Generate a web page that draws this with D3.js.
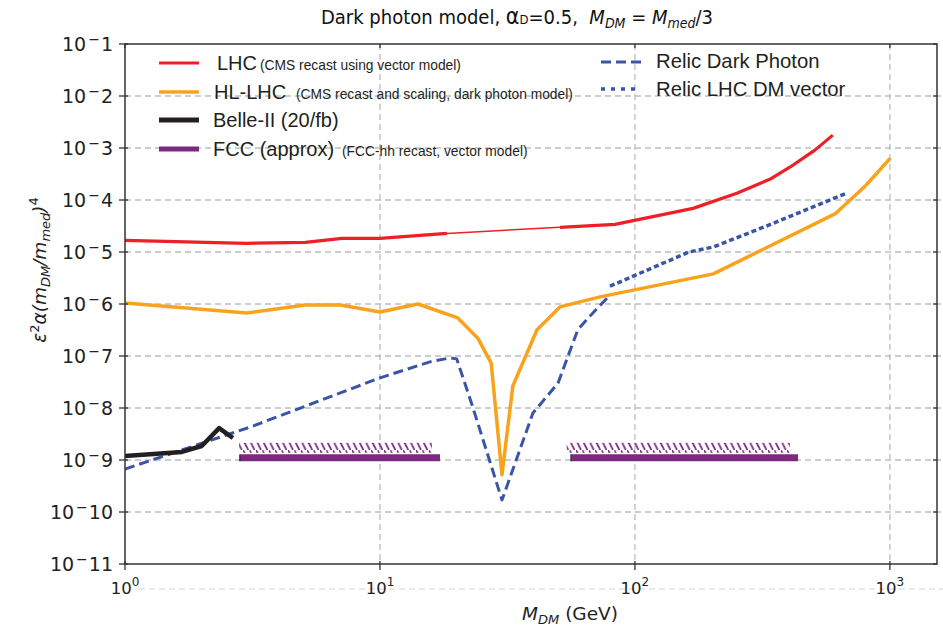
<!DOCTYPE html>
<html>
<head>
<meta charset="utf-8">
<script src="https://cdn.jsdelivr.net/npm/d3@7"></script>
<style>
  body { margin: 0; background: #fff; }
  svg { display: block; }
</style>
</head>
<body>
<div id="chart"></div>
<script>
// ---------------- data ----------------
const xTicks = [1, 10, 100, 1000];
const xTickExp = ["0", "1", "2", "3"];
const yTicks = [1e-1, 1e-2, 1e-3, 1e-4, 1e-5, 1e-6, 1e-7, 1e-8, 1e-9, 1e-10, 1e-11];
const yTickExp = ["1", "2", "3", "4", "5", "6", "7", "8", "9", "10", "11"];

const lhcLowMass = [1.0, 3.0, 5.1, 7.1, 10, 18.3];
const lhcLowVal  = [1.67e-5, 1.47e-5, 1.53e-5, 1.83e-5, 1.83e-5, 2.28e-5];
const lhcGapMass = [18.3, 50.8];
const lhcGapVal  = [2.28e-5, 2.98e-5];
const lhcHighMass = [50.8, 83.5, 169, 251, 338, 405, 508, 597];
const lhcHighVal  = [2.98e-5, 3.4e-5, 6.9e-5, 1.35e-4, 2.5e-4, 4.27e-4, 9.1e-4, 1.77e-3];

const hlMass = [1.0, 3.0, 5.1, 7.0, 10, 14.1, 20.2, 24.2, 27.3, 30.1, 33.2, 41.3, 50.8, 73, 203, 609, 801, 1004];
const hlVal  = [1.04e-6, 6.7e-7, 9.6e-7, 9.6e-7, 7.0e-7, 1.0e-6, 5.4e-7, 2.2e-7, 7.3e-8, 5.2e-10, 2.65e-8, 3.2e-7, 8.8e-7, 1.37e-6, 3.8e-6, 5.4e-5, 1.86e-4, 6.4e-4];

const belleMass = [1.0, 1.67, 2.0, 2.34, 2.65];
const belleVal  = [1.19e-9, 1.43e-9, 1.86e-9, 4.1e-9, 2.65e-9];

const relicDPMass = [1.0, 3.1, 10, 15.7, 18.8, 20.0, 23.1, 30.1, 39.8, 49.9, 59.7, 66.7, 79.8];
const relicDPVal  = [6.7e-10, 4.3e-9, 3.8e-8, 7.7e-8, 9.2e-8, 8.8e-8, 1.05e-8, 1.7e-10, 8.0e-9, 3.0e-8, 3.2e-7, 5.9e-7, 1.49e-6];

const relicVecMass = [79.8, 163, 203, 328, 678];
const relicVecVal  = [2.2e-6, 1.0e-5, 1.25e-5, 3.16e-5, 1.36e-4];

const fccStart = [2.82, 56.1];
const fccEnd   = [17.2, 436];
const fccHatchStart = [2.8, 54];
const fccHatchEnd   = [16, 405];
const fccVal = 1.1e-9;

// ---------------- layout ----------------
const W = 943, H = 627;
const m = { left: 125, right: 6, top: 44, bottom: 63 };
const x = d3.scaleLog().domain([1, 1530]).range([m.left, W - m.right]);
const y = d3.scaleLog().domain([1e-11, 1e-1]).range([H - m.bottom, m.top]);

const svg = d3.select("#chart").append("svg").attr("width", W).attr("height", H)
  .style("font-family", "'DejaVu Sans', sans-serif");

const defs = svg.append("defs");
defs.append("clipPath").attr("id", "clip").append("rect")
  .attr("x", m.left).attr("y", m.top).attr("width", W - m.left - m.right).attr("height", H - m.top - m.bottom);
const pat = defs.append("pattern").attr("id", "hatch").attr("patternUnits", "userSpaceOnUse")
  .attr("width", 6.4).attr("height", 10);
pat.append("path").attr("d", "M0,0 L5,10").attr("stroke", "#7b2a80").attr("stroke-width", 1.7);

const gridColor = "#bdbdbd";
// horizontal grid (extends to right edge of the picture)
svg.append("g").selectAll("line").data(yTicks.slice(1, -1)).join("line")
  .attr("x1", m.left).attr("x2", W).attr("y1", d => y(d)).attr("y2", d => y(d))
  .attr("stroke", gridColor).attr("stroke-width", 1.3).attr("stroke-dasharray", "6,4");
// vertical grid
svg.append("g").selectAll("line").data(xTicks.slice(1)).join("line")
  .attr("x1", d => x(d)).attr("x2", d => x(d)).attr("y1", m.top).attr("y2", H - m.bottom)
  .attr("stroke", gridColor).attr("stroke-width", 1.3).attr("stroke-dasharray", "6,4");
// stray grid line below axis
svg.append("line").attr("x1", m.left + 14).attr("x2", W).attr("y1", 589).attr("y2", 589)
  .attr("stroke", "#d4d4d4").attr("stroke-width", 1.1).attr("stroke-dasharray", "6,4");

// ---------------- curves ----------------
const line = d3.line().x(d => x(d[0])).y(d => y(d[1]));
const zip = (a, b) => a.map((v, i) => [v, b[i]]);
const plot = svg.append("g").attr("clip-path", "url(#clip)");

function draw(mass, val, color, width, dash) {
  plot.append("path").datum(zip(mass, val)).attr("d", line)
    .attr("fill", "none").attr("stroke", color).attr("stroke-width", width)
    .attr("stroke-linejoin", "round").attr("stroke-dasharray", dash || null);
}
const RED = "#ee1f26", ORANGE = "#f9a31c", BLACK = "#231f20", PURPLE = "#7b2a80", BLUE = "#3a55a6";

draw(relicDPMass, relicDPVal, BLUE, 3, "10,5");
draw(relicVecMass, relicVecVal, BLUE, 3.5, "5,3");
draw(lhcLowMass, lhcLowVal, RED, 3.2);
draw(lhcGapMass, lhcGapVal, RED, 1.5);
draw(lhcHighMass, lhcHighVal, RED, 3.2);
draw(hlMass, hlVal, ORANGE, 3.5);
draw(belleMass, belleVal, BLACK, 4.5);

// FCC bars with hatching
fccStart.forEach((s, i) => {
  const yb = y(fccVal);
  plot.append("rect").attr("x", x(fccHatchStart[i])).attr("y", yb - 15)
    .attr("width", x(fccHatchEnd[i]) - x(fccHatchStart[i])).attr("height", 10)
    .attr("fill", "url(#hatch)");
  plot.append("line").attr("x1", x(s)).attr("x2", x(fccEnd[i])).attr("y1", yb).attr("y2", yb)
    .attr("stroke", PURPLE).attr("stroke-width", 7);
  plot.append("line").attr("x1", x(s)).attr("x2", x(s)).attr("y1", yb - 3.5).attr("y2", yb + 3.5)
    .attr("stroke", BLACK).attr("stroke-width", 1);
});

// ---------------- frame & ticks ----------------
const frame = "#333";
svg.append("rect").attr("x", m.left).attr("y", m.top)
  .attr("width", W - m.left - m.right).attr("height", H - m.top - m.bottom)
  .attr("fill", "none").attr("stroke", frame).attr("stroke-width", 1.5);

const yAxisG = svg.append("g");
yTicks.forEach((t, i) => {
  yAxisG.append("line").attr("x1", m.left - 6).attr("x2", m.left + 3).attr("y1", y(t)).attr("y2", y(t))
    .attr("stroke", frame).attr("stroke-width", 1.3);
  yAxisG.append("line").attr("x1", W - m.right - 4).attr("x2", W - m.right).attr("y1", y(t)).attr("y2", y(t))
    .attr("stroke", frame).attr("stroke-width", 1.3);
  const tx = yAxisG.append("text").attr("x", m.left - 12).attr("y", y(t) + 7)
    .attr("text-anchor", "end").attr("font-size", 19).attr("fill", "#222");
  tx.append("tspan").text("10");
  tx.append("tspan").attr("dy", -7).attr("font-size", 14).attr("dx", 2).text("\u2212");
  tx.append("tspan").attr("dy", 7).attr("dx", 1).text(yTickExp[i]);
});

const xAxisG = svg.append("g");
xTicks.forEach((t, i) => {
  xAxisG.append("line").attr("x1", x(t)).attr("x2", x(t)).attr("y1", H - m.bottom - 3).attr("y2", H - m.bottom + 6)
    .attr("stroke", frame).attr("stroke-width", 1.3);
  xAxisG.append("line").attr("x1", x(t)).attr("x2", x(t)).attr("y1", m.top).attr("y2", m.top + 4)
    .attr("stroke", frame).attr("stroke-width", 1.3);
  const tx = xAxisG.append("text").attr("x", x(t)).attr("y", H - m.bottom + 30)
    .attr("text-anchor", "middle").attr("font-size", 16.5).attr("fill", "#222");
  tx.append("tspan").text("10");
  tx.append("tspan").attr("dy", -8).attr("font-size", 12).text(xTickExp[i]);
});

// ---------------- labels ----------------
const title = svg.append("text").attr("x", 517).attr("y", 24).attr("text-anchor", "middle")
  .attr("font-size", 20).attr("fill", "#111")
  .style("font-family", "'Liberation Sans Narrow', 'DejaVu Sans Condensed', 'Liberation Sans', sans-serif");
title.append("tspan").text("Dark photon model, ");
title.append("tspan").attr("font-size", 23).text("\u03B1");
title.append("tspan").attr("font-size", 13).text("D");
title.append("tspan").text("=0.5,\u00A0\u00A0");
title.append("tspan").attr("font-style", "italic").text("M");
title.append("tspan").attr("font-style", "italic").attr("font-size", 14).attr("dy", 4).text("DM");
title.append("tspan").attr("dy", -4).text(" = ");
title.append("tspan").attr("font-style", "italic").text("M");
title.append("tspan").attr("font-style", "italic").attr("font-size", 14).attr("dy", 4).text("med");
title.append("tspan").attr("dy", -4).text("/3");

const xl = svg.append("text").attr("x", 570).attr("y", 620).attr("text-anchor", "middle")
  .attr("font-size", 18.5).attr("fill", "#222");
xl.append("tspan").attr("font-style", "italic").text("M");
xl.append("tspan").attr("font-style", "italic").attr("font-size", 13).attr("dy", 4).text("DM");
xl.append("tspan").attr("dy", -4).text(" (GeV)");

const yl = svg.append("text").attr("transform", "translate(46,270) rotate(-90)")
  .attr("text-anchor", "middle").attr("font-size", 18.5).attr("fill", "#222");
yl.append("tspan").attr("font-style", "italic").text("\u03B5");
yl.append("tspan").attr("font-size", 13).attr("dy", -7).text("2");
yl.append("tspan").attr("font-style", "italic").attr("dy", 7).text("\u03B1(m");
yl.append("tspan").attr("font-style", "italic").attr("font-size", 13).attr("dy", 4).text("DM");
yl.append("tspan").attr("font-style", "italic").attr("dy", -4).text("/m");
yl.append("tspan").attr("font-style", "italic").attr("font-size", 13).attr("dy", 4).text("med");
yl.append("tspan").attr("font-style", "italic").attr("dy", -4).text(")");
yl.append("tspan").attr("font-size", 13).attr("dy", -8).text("4");

// ---------------- legend ----------------
const leg = svg.append("g").style("font-family", "'Liberation Sans', Arial, sans-serif").attr("fill", "#231f20");
const legItems = [
  { c: RED, w: 3, y: 63, big: "LHC", bx: 217, small: "(CMS recast using vector model)", sx: 260, by: 70 },
  { c: ORANGE, w: 3.5, y: 92, big: "HL-LHC", bx: 214, small: "(CMS recast and scaling, dark photon model)", sx: 296, by: 99 },
  { c: BLACK, w: 5, y: 120, big: "Belle-II (20/fb)", bx: 213, small: "", sx: 0, by: 127 },
  { c: PURPLE, w: 5, y: 149, big: "FCC (approx)", bx: 213, small: "(FCC-hh recast, vector model)", sx: 342, by: 156 }
];
legItems.forEach(d => {
  leg.append("line").attr("x1", 159).attr("x2", 199).attr("y1", d.y).attr("y2", d.y)
    .attr("stroke", d.c).attr("stroke-width", d.w);
  leg.append("text").attr("x", d.bx).attr("y", d.by).attr("font-size", 20).text(d.big);
  if (d.small) leg.append("text").attr("x", d.sx).attr("y", d.by).attr("font-size", 13.8).text(d.small);
});
leg.append("line").attr("x1", 601).attr("x2", 641).attr("y1", 62).attr("y2", 62)
  .attr("stroke", BLUE).attr("stroke-width", 3).attr("stroke-dasharray", "10,5");
leg.append("text").attr("x", 656).attr("y", 68).attr("font-size", 20.3).text("Relic Dark Photon");
leg.append("line").attr("x1", 601).attr("x2", 641).attr("y1", 89).attr("y2", 89)
  .attr("stroke", BLUE).attr("stroke-width", 3.5).attr("stroke-dasharray", "4,6");
leg.append("text").attr("x", 656).attr("y", 96).attr("font-size", 20.3).text("Relic LHC DM vector");
</script>
</body>
</html>
